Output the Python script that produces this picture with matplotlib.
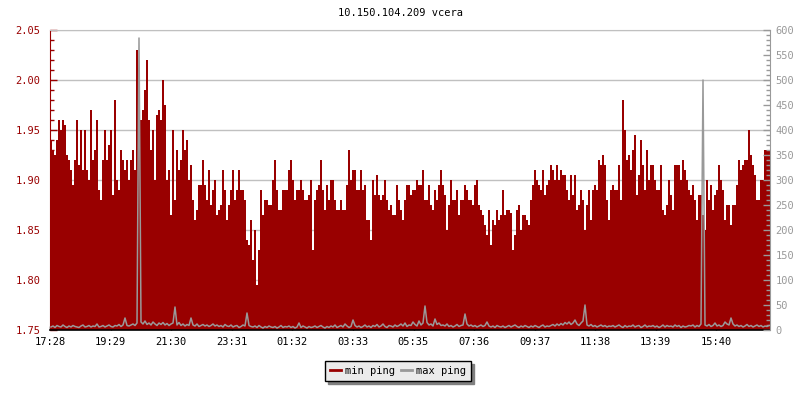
import numpy as np
import matplotlib
matplotlib.use("Agg")
import matplotlib.pyplot as plt
from matplotlib.lines import Line2D
from matplotlib.ticker import MultipleLocator, FixedLocator

plt.rcParams['font.family'] = ['DejaVu Sans Mono']

title = "10.150.104.209 vcera"
tick_labels = ["17:28", "19:29", "21:30", "23:31", "01:32", "03:33",
               "05:35", "07:36", "09:37", "11:38", "13:39", "15:40"]
tick_minutes = [0, 121, 242, 363, 484, 605, 727, 848, 969, 1090, 1211, 1332]
step_minutes = 4

min_ping = [
    1.94,1.93,1.925,1.94,1.96,1.95,1.96,1.955,1.925,1.92,
    1.91,1.895,1.92,1.96,1.915,1.95,1.91,1.95,1.91,1.90,
    1.97,1.92,1.93,1.96,1.89,1.88,1.92,1.95,1.92,1.935,
    1.95,1.885,1.98,1.90,1.89,1.93,1.92,1.91,1.92,1.90,
    1.92,1.93,1.91,2.03,2.01,1.96,1.97,1.99,2.02,1.96,
    1.93,1.95,1.90,1.965,1.97,1.96,2.00,1.975,1.90,1.91,
    1.865,1.95,1.88,1.93,1.91,1.92,1.95,1.93,1.94,1.90,
    1.915,1.88,
    1.86,1.87,1.895,1.895,1.92,1.895,1.88,1.91,1.875,1.89,
    1.90,1.865,1.87,1.875,1.91,1.89,1.86,1.875,1.89,1.91,
    1.88,1.89,1.91,1.89,1.89,1.88,1.84,1.835,1.86,1.82,
    1.85,1.795,1.83,1.89,1.865,1.88,1.88,1.875,1.875,1.90,
    1.92,1.89,1.87,1.87,1.89,1.89,1.89,1.91,1.92,1.90,
    1.88,1.89,1.89,1.90,1.89,1.88,1.88,1.885,1.90,1.83,
    1.88,1.89,1.895,1.92,1.89,1.87,1.895,1.88,1.90,1.90,
    1.88,1.87,
    1.87,1.88,1.87,1.87,1.895,1.93,1.90,1.91,1.91,1.89,
    1.89,1.91,1.89,1.895,1.86,1.86,1.84,1.90,1.885,1.905,
    1.885,1.88,1.885,1.90,1.88,1.87,1.875,1.865,1.865,1.895,
    1.88,1.87,1.86,1.88,1.895,1.895,1.885,1.89,1.89,1.90,
    1.895,1.895,1.91,1.88,1.88,1.895,1.875,1.87,1.89,1.88,
    1.895,1.91,1.895,1.885,1.85,1.875,1.90,1.88,1.88,1.89,
    1.865,1.88,1.88,1.895,1.89,1.88,1.88,1.875,1.895,1.90,
    1.875,1.87,
    1.865,1.855,1.845,1.87,1.835,1.86,1.855,1.87,1.86,1.865,
    1.89,1.865,1.87,1.87,1.867,1.83,1.845,1.87,1.875,1.85,
    1.865,1.865,1.86,1.855,1.88,1.895,1.91,1.90,1.895,1.89,
    1.91,1.885,1.895,1.90,1.915,1.91,1.90,1.915,1.90,1.91,
    1.905,1.905,1.89,1.88,1.905,1.885,1.905,1.87,1.875,1.89,
    1.88,1.85,1.875,1.89,1.86,1.89,1.895,1.89,1.92,1.915,
    1.925,1.915,1.88,1.86,1.89,1.895,1.89,1.89,1.915,1.88,
    1.98,1.95,
    1.92,1.925,1.91,1.93,1.945,1.885,1.905,1.94,1.915,1.89,
    1.93,1.90,1.915,1.915,1.90,1.89,1.89,1.915,1.87,1.865,
    1.875,1.90,1.885,1.87,1.915,1.915,1.915,1.90,1.92,1.91,
    1.90,1.89,1.885,1.895,1.88,1.86,1.885,1.885,1.865,1.85,
    1.90,1.88,1.895,1.87,1.885,1.89,1.915,1.90,1.89,1.86,
    1.875,1.875,1.855,1.875,1.875,1.895,1.92,1.91,1.915,1.92,
    1.92,1.95,1.925,1.915,1.905,1.88,1.88,1.90,1.90,1.93,
    1.93,1.93,
]

max_ping = [
    6,8,5,9,7,6,10,7,5,8,6,9,7,6,5,8,10,6,7,9,
    6,8,7,12,6,7,9,6,8,10,7,6,9,8,11,7,10,24,9,8,
    10,12,9,14,584,16,12,18,11,14,10,16,12,9,14,11,15,10,13,9,
    12,14,46,10,15,9,12,8,11,9,24,10,8,12,7,9,11,8,10,7,
    9,12,8,10,7,9,6,11,8,7,10,6,8,9,5,7,10,8,34,9,
    7,6,8,5,9,6,4,7,5,8,6,5,7,4,6,9,5,7,6,8,
    5,7,4,6,14,5,8,6,4,7,5,6,8,5,7,9,6,4,7,5,
    8,6,10,5,7,9,6,12,8,5,7,20,9,6,8,5,7,10,6,8,
    5,9,7,11,6,8,12,7,5,9,8,6,10,7,9,12,8,14,7,10,
    9,16,11,8,18,10,14,48,15,10,12,8,22,11,14,9,10,8,12,7,
    9,6,8,11,7,9,10,32,12,8,10,7,9,6,8,10,7,9,16,8,
    6,8,5,9,7,6,8,5,7,9,6,8,10,7,5,8,6,9,7,5,
    8,6,9,7,5,8,10,6,8,7,9,11,8,12,9,13,10,15,12,16,
    11,14,20,12,9,14,18,50,10,8,11,7,9,6,8,10,7,9,6,8,
    7,9,6,8,10,7,5,9,6,8,7,10,6,8,9,5,7,10,6,8,
    7,9,6,8,5,7,10,6,9,7,8,6,10,7,9,5,8,6,7,9,
    8,10,6,9,7,12,500,10,8,11,7,9,14,8,10,7,9,16,12,10,
    24,12,8,10,7,9,6,8,11,7,9,6,8,10,7,9,6,8,7,9,
]

RED = '#990000'
GRAY = '#999999'
GRID = '#c0c0c0'

fig = plt.figure(figsize=(8, 4), dpi=100)
ax = fig.add_axes([50/800, 70/400, 720/800, 300/400])
edges = np.arange(len(min_ping) + 1) * step_minutes
centers = (edges[:-1] + edges[1:]) / 2

ax.stairs(min_ping, edges, baseline=1.75, fill=True, color=RED, lw=0, zorder=2)
ax.set_xlim(0, edges[-1])
ax.set_ylim(1.75, 2.05)
ax.yaxis.set_major_locator(MultipleLocator(0.05))
ax.yaxis.set_minor_locator(MultipleLocator(0.01))
ax.yaxis.set_major_formatter(matplotlib.ticker.FormatStrFormatter('%.2f'))
ax.grid(axis='y', which='major', color=GRID, lw=1, zorder=0)
ax.set_axisbelow(True)
ax.xaxis.set_major_locator(FixedLocator(tick_minutes))
ax.set_xticklabels(tick_labels)

ax.tick_params(axis='y', which='major', direction='in', length=5, width=1,
               colors=RED, labelsize=7.5, pad=7)
ax.tick_params(axis='y', which='minor', direction='in', length=3, width=1, colors=RED)
ax.tick_params(axis='x', which='major', direction='in', length=3, width=1,
               colors='black', labelsize=7.5, pad=5)
ax.spines['left'].set_color(RED)
ax.spines['bottom'].set_color('black')
ax.spines['bottom'].set_linewidth(1.2)
ax.spines['top'].set_color(GRID)
ax.spines['right'].set_visible(False)

ax2 = ax.twinx()
ax2.plot(centers, max_ping, color=GRAY, lw=1.1)
ax2.set_ylim(0, 600)
ax2.yaxis.set_major_locator(MultipleLocator(50))
ax2.yaxis.set_minor_locator(MultipleLocator(10))
ax2.tick_params(axis='y', which='major', direction='in', length=5, width=1,
                colors=GRAY, labelsize=7.5, pad=4)
ax2.tick_params(axis='y', which='minor', direction='in', length=3, width=1, colors=GRAY)
ax2.spines['right'].set_color(GRAY)
ax2.spines['left'].set_visible(False)
ax2.spines['top'].set_visible(False)
ax2.spines['bottom'].set_visible(False)

fig.text(0.5, 1 - 13/400, title, ha='center', va='center', fontsize=7.5, color='black')

handles = [Line2D([0], [0], color=RED, lw=2), Line2D([0], [0], color=GRAY, lw=2)]
leg = fig.legend(handles, ["min ping", "max ping"], loc='center',
                 bbox_to_anchor=(398/800, 1 - 371/400), ncol=2, fontsize=7.5,
                 frameon=True, fancybox=False, shadow={'color': '#808080', 'alpha': 1},
                 handlelength=1.0, handletextpad=0.4, columnspacing=0.6,
                 borderpad=0.5, framealpha=1)
leg.get_frame().set_facecolor('#ebebeb')
leg.get_frame().set_edgecolor('black')
leg.get_frame().set_linewidth(1)

fig.savefig("out.png", dpi=100)
